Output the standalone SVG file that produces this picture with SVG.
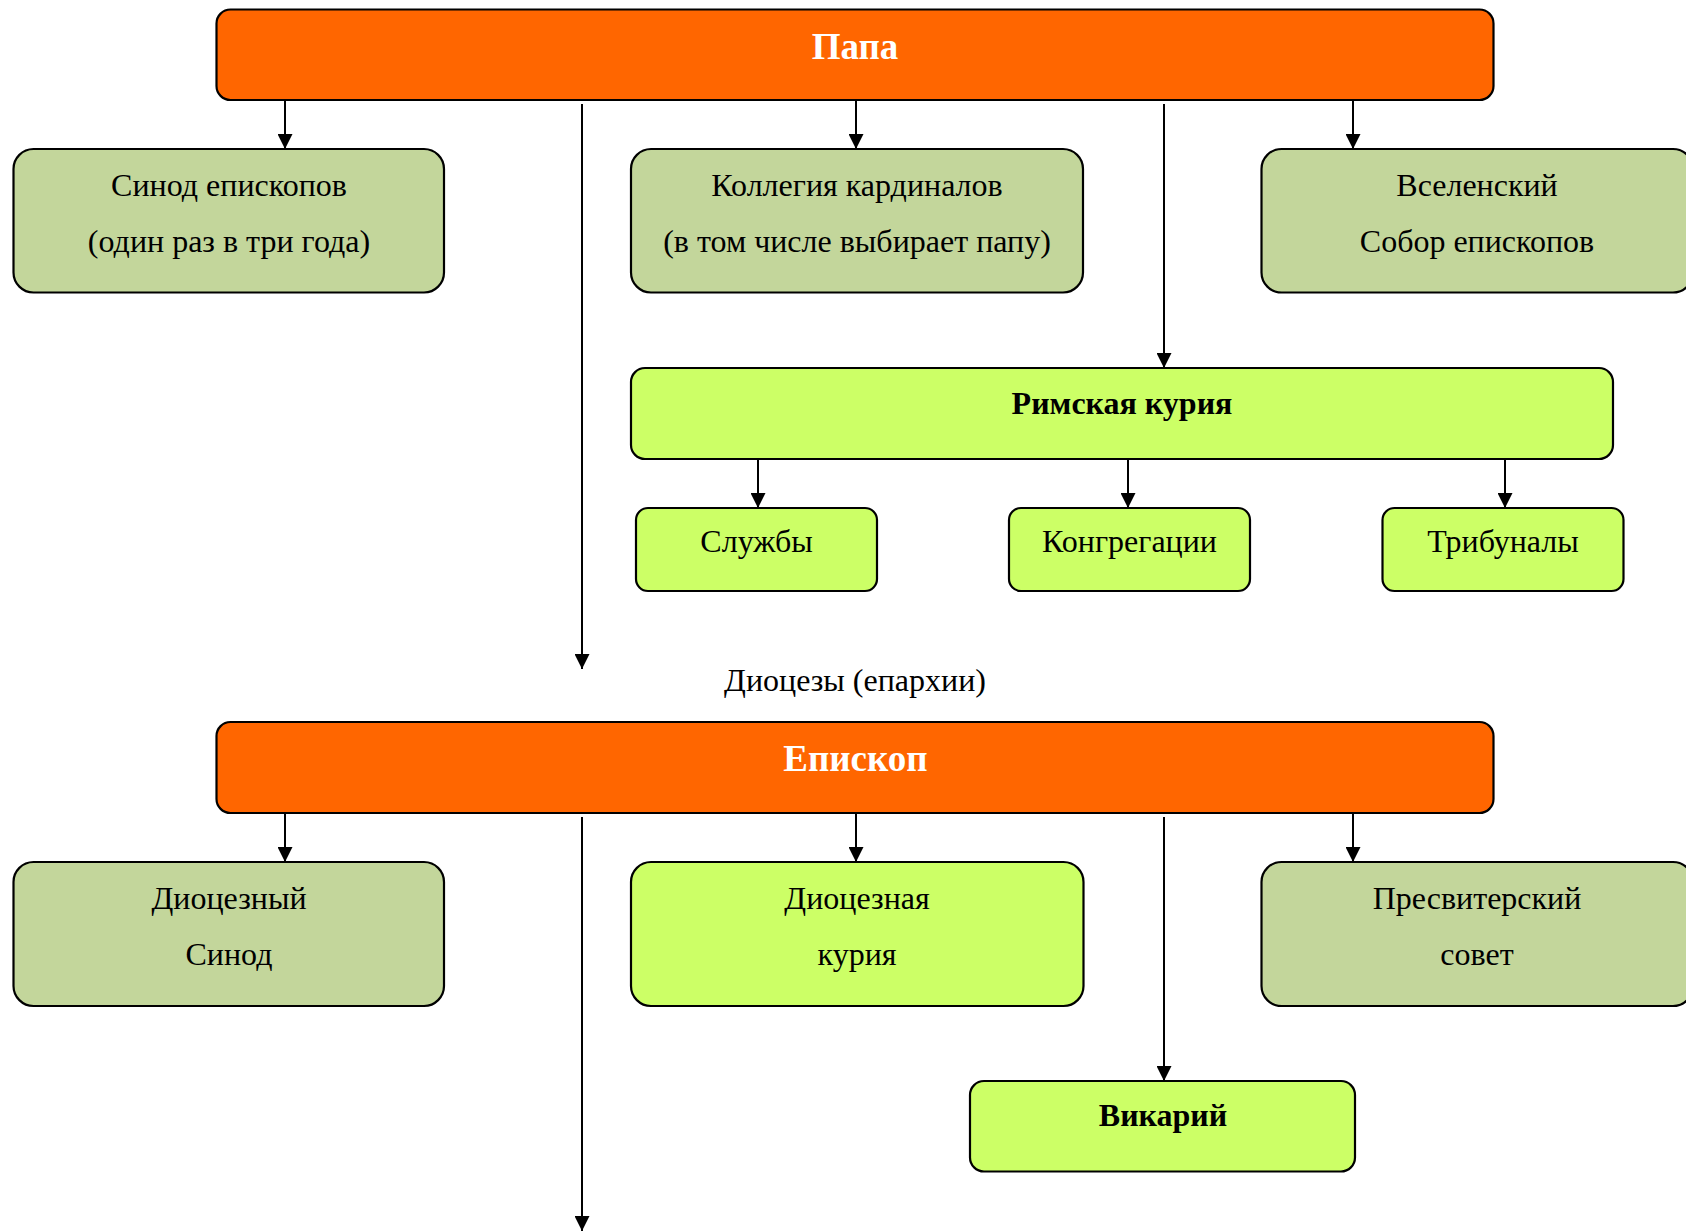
<svg xmlns="http://www.w3.org/2000/svg" width="1686" height="1231" viewBox="0 0 1686 1231">
<style>
.box{stroke:#000;stroke-width:2.2}
.or{fill:#FF6600}
.ol{fill:#C3D69B}
.li{fill:#CCFF66}
.t{font-family:"Liberation Serif","Times New Roman",serif;font-size:32px;fill:#000;text-anchor:middle}
.b{font-weight:bold}
.w{fill:#fff;font-size:37px;font-weight:bold}
.c{stroke:#000;stroke-width:2;fill:none}
.ca{marker-end:url(#ah)}
</style>
<defs>
<marker id="ah" viewBox="0 0 10 10" refX="10" refY="5" markerWidth="15" markerHeight="15" markerUnits="userSpaceOnUse" orient="auto">
<path d="M0,0 L10,5 L0,10 z" fill="#000"/>
</marker>
</defs>
<rect width="1686" height="1231" fill="#fff"/>
<g id="connectors">
<line class="c ca" x1="285" y1="100" x2="285" y2="149"/>
<line class="c ca" x1="856" y1="100" x2="856" y2="149"/>
<line class="c ca" x1="1353" y1="100" x2="1353" y2="149"/>
<line class="c ca" x1="582" y1="104" x2="582" y2="669"/>
<line class="c ca" x1="1164" y1="104" x2="1164" y2="368"/>
<line class="c ca" x1="758" y1="459" x2="758" y2="508"/>
<line class="c ca" x1="1128" y1="459" x2="1128" y2="508"/>
<line class="c ca" x1="1505" y1="459" x2="1505" y2="508"/>
<line class="c ca" x1="285" y1="813" x2="285" y2="862"/>
<line class="c ca" x1="856" y1="813" x2="856" y2="862"/>
<line class="c ca" x1="1353" y1="813" x2="1353" y2="862"/>
<line class="c ca" x1="582" y1="817" x2="582" y2="1231"/>
<line class="c ca" x1="1164" y1="817" x2="1164" y2="1081"/>
</g>
<g id="papa">
<rect class="box or" x="216.5" y="9.5" width="1277" height="90.5" rx="14"/>
<text class="t w" x="855" y="59">Папа</text>
</g>
<g id="sinod">
<rect class="box ol" x="13.5" y="149" width="430.5" height="143.5" rx="20"/>
<text class="t" x="229" y="195.5">Синод епископов</text>
<text class="t" x="229" y="251.5">(один раз в три года)</text>
</g>
<g id="kollegia">
<rect class="box ol" x="631" y="149" width="452" height="143.5" rx="20"/>
<text class="t" x="857" y="195.5">Коллегия кардиналов</text>
<text class="t" x="857" y="251.5">(в том числе выбирает папу)</text>
</g>
<g id="sobor">
<rect class="box ol" x="1261.5" y="149" width="431.5" height="143.5" rx="20"/>
<text class="t" x="1477" y="195.5">Вселенский</text>
<text class="t" x="1477" y="251.5">Собор епископов</text>
</g>
<g id="kuria">
<rect class="box li" x="631" y="368" width="982" height="91" rx="14"/>
<text class="t b" x="1122" y="414">Римская курия</text>
</g>
<g id="sluzhby">
<rect class="box li" x="636" y="508" width="241" height="83" rx="12"/>
<text class="t" x="756.5" y="552">Службы</text>
</g>
<g id="kongregacii">
<rect class="box li" x="1009" y="508" width="241" height="83" rx="12"/>
<text class="t" x="1129.5" y="552">Конгрегации</text>
</g>
<g id="tribunaly">
<rect class="box li" x="1382.5" y="508" width="241" height="83" rx="12"/>
<text class="t" x="1503" y="552">Трибуналы</text>
</g>
<g id="diocezy">
<text class="t" x="855" y="690.5">Диоцезы (епархии)</text>
</g>
<g id="episkop">
<rect class="box or" x="216.5" y="722" width="1277" height="91" rx="14"/>
<text class="t w" x="855.5" y="771">Епископ</text>
</g>
<g id="dsinod">
<rect class="box ol" x="13.5" y="862" width="430.5" height="144" rx="20"/>
<text class="t" x="229" y="908.5">Диоцезный</text>
<text class="t" x="229" y="964.5">Синод</text>
</g>
<g id="dkuria">
<rect class="box li" x="631" y="862" width="452.5" height="144" rx="20"/>
<text class="t" x="857" y="908.5">Диоцезная</text>
<text class="t" x="857" y="964.5">курия</text>
</g>
<g id="presv">
<rect class="box ol" x="1261.5" y="862" width="431.5" height="144" rx="20"/>
<text class="t" x="1477" y="908.5">Пресвитерский</text>
<text class="t" x="1477" y="964.5">совет</text>
</g>
<g id="vikariy">
<rect class="box li" x="970" y="1081" width="385" height="90.5" rx="14"/>
<text class="t b" x="1163" y="1126">Викарий</text>
</g>
</svg>
